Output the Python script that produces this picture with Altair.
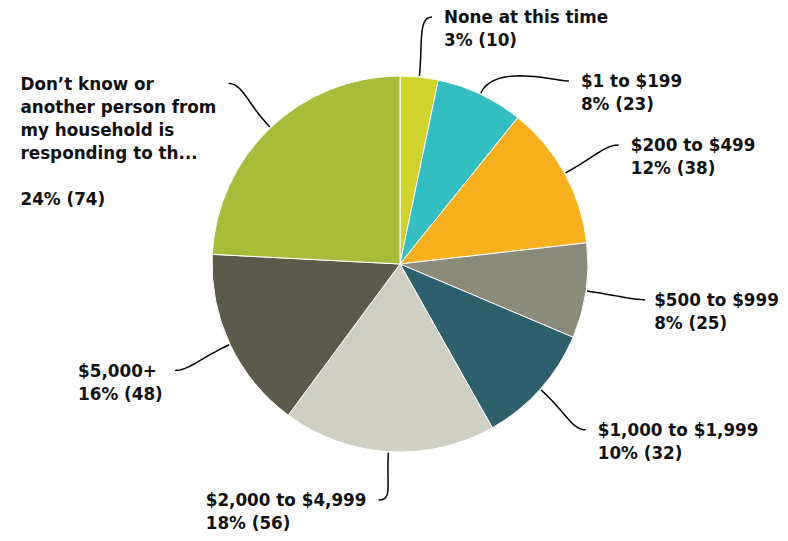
import math
import altair as alt
import pandas as pd

# ---------------- data ----------------
categories = [
    "None at this time",
    "$1 to $199",
    "$200 to $499",
    "$500 to $999",
    "$1,000 to $1,999",
    "$2,000 to $4,999",
    "$5,000+",
    "Don\u2019t know or another person from my household is responding to th...",
]
counts = [10, 23, 38, 25, 32, 56, 48, 74]
colors = ["#d0d32c", "#34bec1", "#f7b11e", "#8a8b79",
          "#2e5f6d", "#cfcfc1", "#5c5a4a", "#a9bc3a"]

# ---------------- layout ----------------
W, H = 772, 525          # chart size
CX, CY = 400, 264        # pie centre, page coordinates
R = 188                  # pie radius
R_START, R_CTRL, R_END = 189, 222, 249
GAP = 12
FS = 16.8
LH = 23
MIN_SEP = 64
MIN_DX = 32
Y_MAX = 500
X_LIMIT = 779
WRAP = 205
FONT = "DejaVu Sans"

# DejaVu Sans Bold advance widths (em units)
CW = {" ": .348, "\u2019": .348, "$": .696, "%": 1.002,
      "(": .457, ")": .457, "+": .838, ",": .380, ".": .380, "D": .830,
      "N": .837, "a": .675, "b": .716, "c": .593, "d": .716, "e": .678,
      "f": .435, "g": .716, "h": .712, "i": .343, "k": .665, "l": .343,
      "m": 1.042, "n": .712, "o": .687, "p": .716, "r": .493, "s": .595,
      "t": .478, "u": .712, "w": .924, "y": .652}


def tw(s):
    return sum(CW.get(ch, .696) for ch in s) * FS


def wrap(s):
    words, lines, cur = s.split(" "), [], ""
    for w in words:
        cand = w if not cur else cur + " " + w
        if tw(cand) <= WRAP or not cur:
            cur = cand
        else:
            lines.append(cur)
            cur = w
    lines.append(cur)
    return lines


total = sum(counts)
rows = []
cum = 0
for i, (cat, c) in enumerate(zip(categories, counts)):
    mid = (cum + c / 2) / total * 2 * math.pi
    cum += c
    s, co = math.sin(mid), math.cos(mid)
    side = 1 if s >= 0 else -1
    ex, ey = CX + R_END * s, CY - R_END * co
    if ey < CY and abs(ex - CX) < MIN_DX:
        ex = CX + side * MIN_DX
        ey = CY - math.sqrt(R_END ** 2 - MIN_DX ** 2)
    rows.append(dict(idx=i, cat=cat, cnt=c, s=s, co=co, side=side, ex=ex, ey=ey))

# simple vertical de-overlap per side
for side in (1, -1):
    grp = sorted([r for r in rows if r["side"] == side], key=lambda r: r["ey"])
    prev = None
    for r in grp:
        if prev is not None and r["ey"] < prev + MIN_SEP:
            r["ey"] = prev + MIN_SEP
            dy = r["ey"] - CY
            if abs(dy) < R_END:
                r["ex"] = CX + side * math.sqrt(R_END ** 2 - dy ** 2)
        if r["ey"] > Y_MAX:
            r["ey"] = Y_MAX
            r["ex"] += 6 * side
        prev = r["ey"]

line_rows, text_rows = [], []
for r in rows:
    name_lines = wrap(r["cat"])
    pct = f"{round(r['cnt'] / total * 100)}% ({r['cnt']})"
    lines = name_lines + ([""] if len(name_lines) > 1 else []) + [pct]
    bw = max(tw(l) for l in lines)
    if r["side"] > 0:
        tx = min(r["ex"] + GAP, X_LIMIT - bw)
        r["ex"] = min(r["ex"], tx - 9)
    else:
        tx = r["ex"] - GAP - bw
    for j, ln in enumerate(lines):
        if ln:
            text_rows.append(dict(cat=r["cat"], label=ln, x=tx,
                                  y=r["ey"] + 6.2 + j * LH))

    p0 = (CX + R_START * r["s"], CY - R_START * r["co"])
    p1 = (CX + R_CTRL * r["s"], CY - R_CTRL * r["co"])
    p3 = (r["ex"], r["ey"])
    p2 = (r["ex"] - r["side"] * 14, r["ey"])
    for k in range(25):
        t = k / 24
        a, b, c_, d = (1 - t) ** 3, 3 * (1 - t) ** 2 * t, 3 * (1 - t) * t ** 2, t ** 3
        line_rows.append(dict(cat=r["cat"], k=k,
                              x=a * p0[0] + b * p1[0] + c_ * p2[0] + d * p3[0],
                              y=a * p0[1] + b * p1[1] + c_ * p2[1] + d * p3[1]))

pie_df = pd.DataFrame(dict(idx=list(range(len(categories))),
                           cat=categories, cnt=counts))
line_df = pd.DataFrame(line_rows)
text_df = pd.DataFrame(text_rows)

xs = alt.Scale(domain=[8, 8 + W], nice=False, zero=False)
ys = alt.Scale(domain=[8, 8 + H], nice=False, zero=False, reverse=True)

pie = alt.Chart(pie_df).mark_arc(radius=R, stroke="#ffffff", strokeWidth=1).encode(
    theta=alt.Theta("cnt:Q", stack=True),
    order=alt.Order("idx:Q"),
    color=alt.Color("cat:N", scale=alt.Scale(domain=categories, range=colors), legend=None),
    x=alt.X(datum=CX, type="quantitative", scale=xs, axis=None),
    y=alt.Y(datum=CY, type="quantitative", scale=ys, axis=None),
)

leaders = alt.Chart(line_df).mark_line(color="#000000", strokeWidth=1.5).encode(
    x=alt.X("x:Q", scale=xs, axis=None),
    y=alt.Y("y:Q", scale=ys, axis=None),
    detail="cat:N",
    order="k:Q",
)

labels = alt.Chart(text_df).mark_text(
    align="left", baseline="alphabetic",
    font=FONT, fontWeight="bold", fontSize=FS, color="#111111",
).encode(
    x=alt.X("x:Q", scale=xs, axis=None),
    y=alt.Y("y:Q", scale=ys, axis=None),
    text="label:N",
)

chart = alt.layer(pie, leaders, labels).properties(
    width=W, height=H, padding=0, autosize=alt.AutoSizeParams(type="none")
).configure_view(stroke=None)

chart.save("out.html", embed_options={"renderer": "svg", "actions": False})
